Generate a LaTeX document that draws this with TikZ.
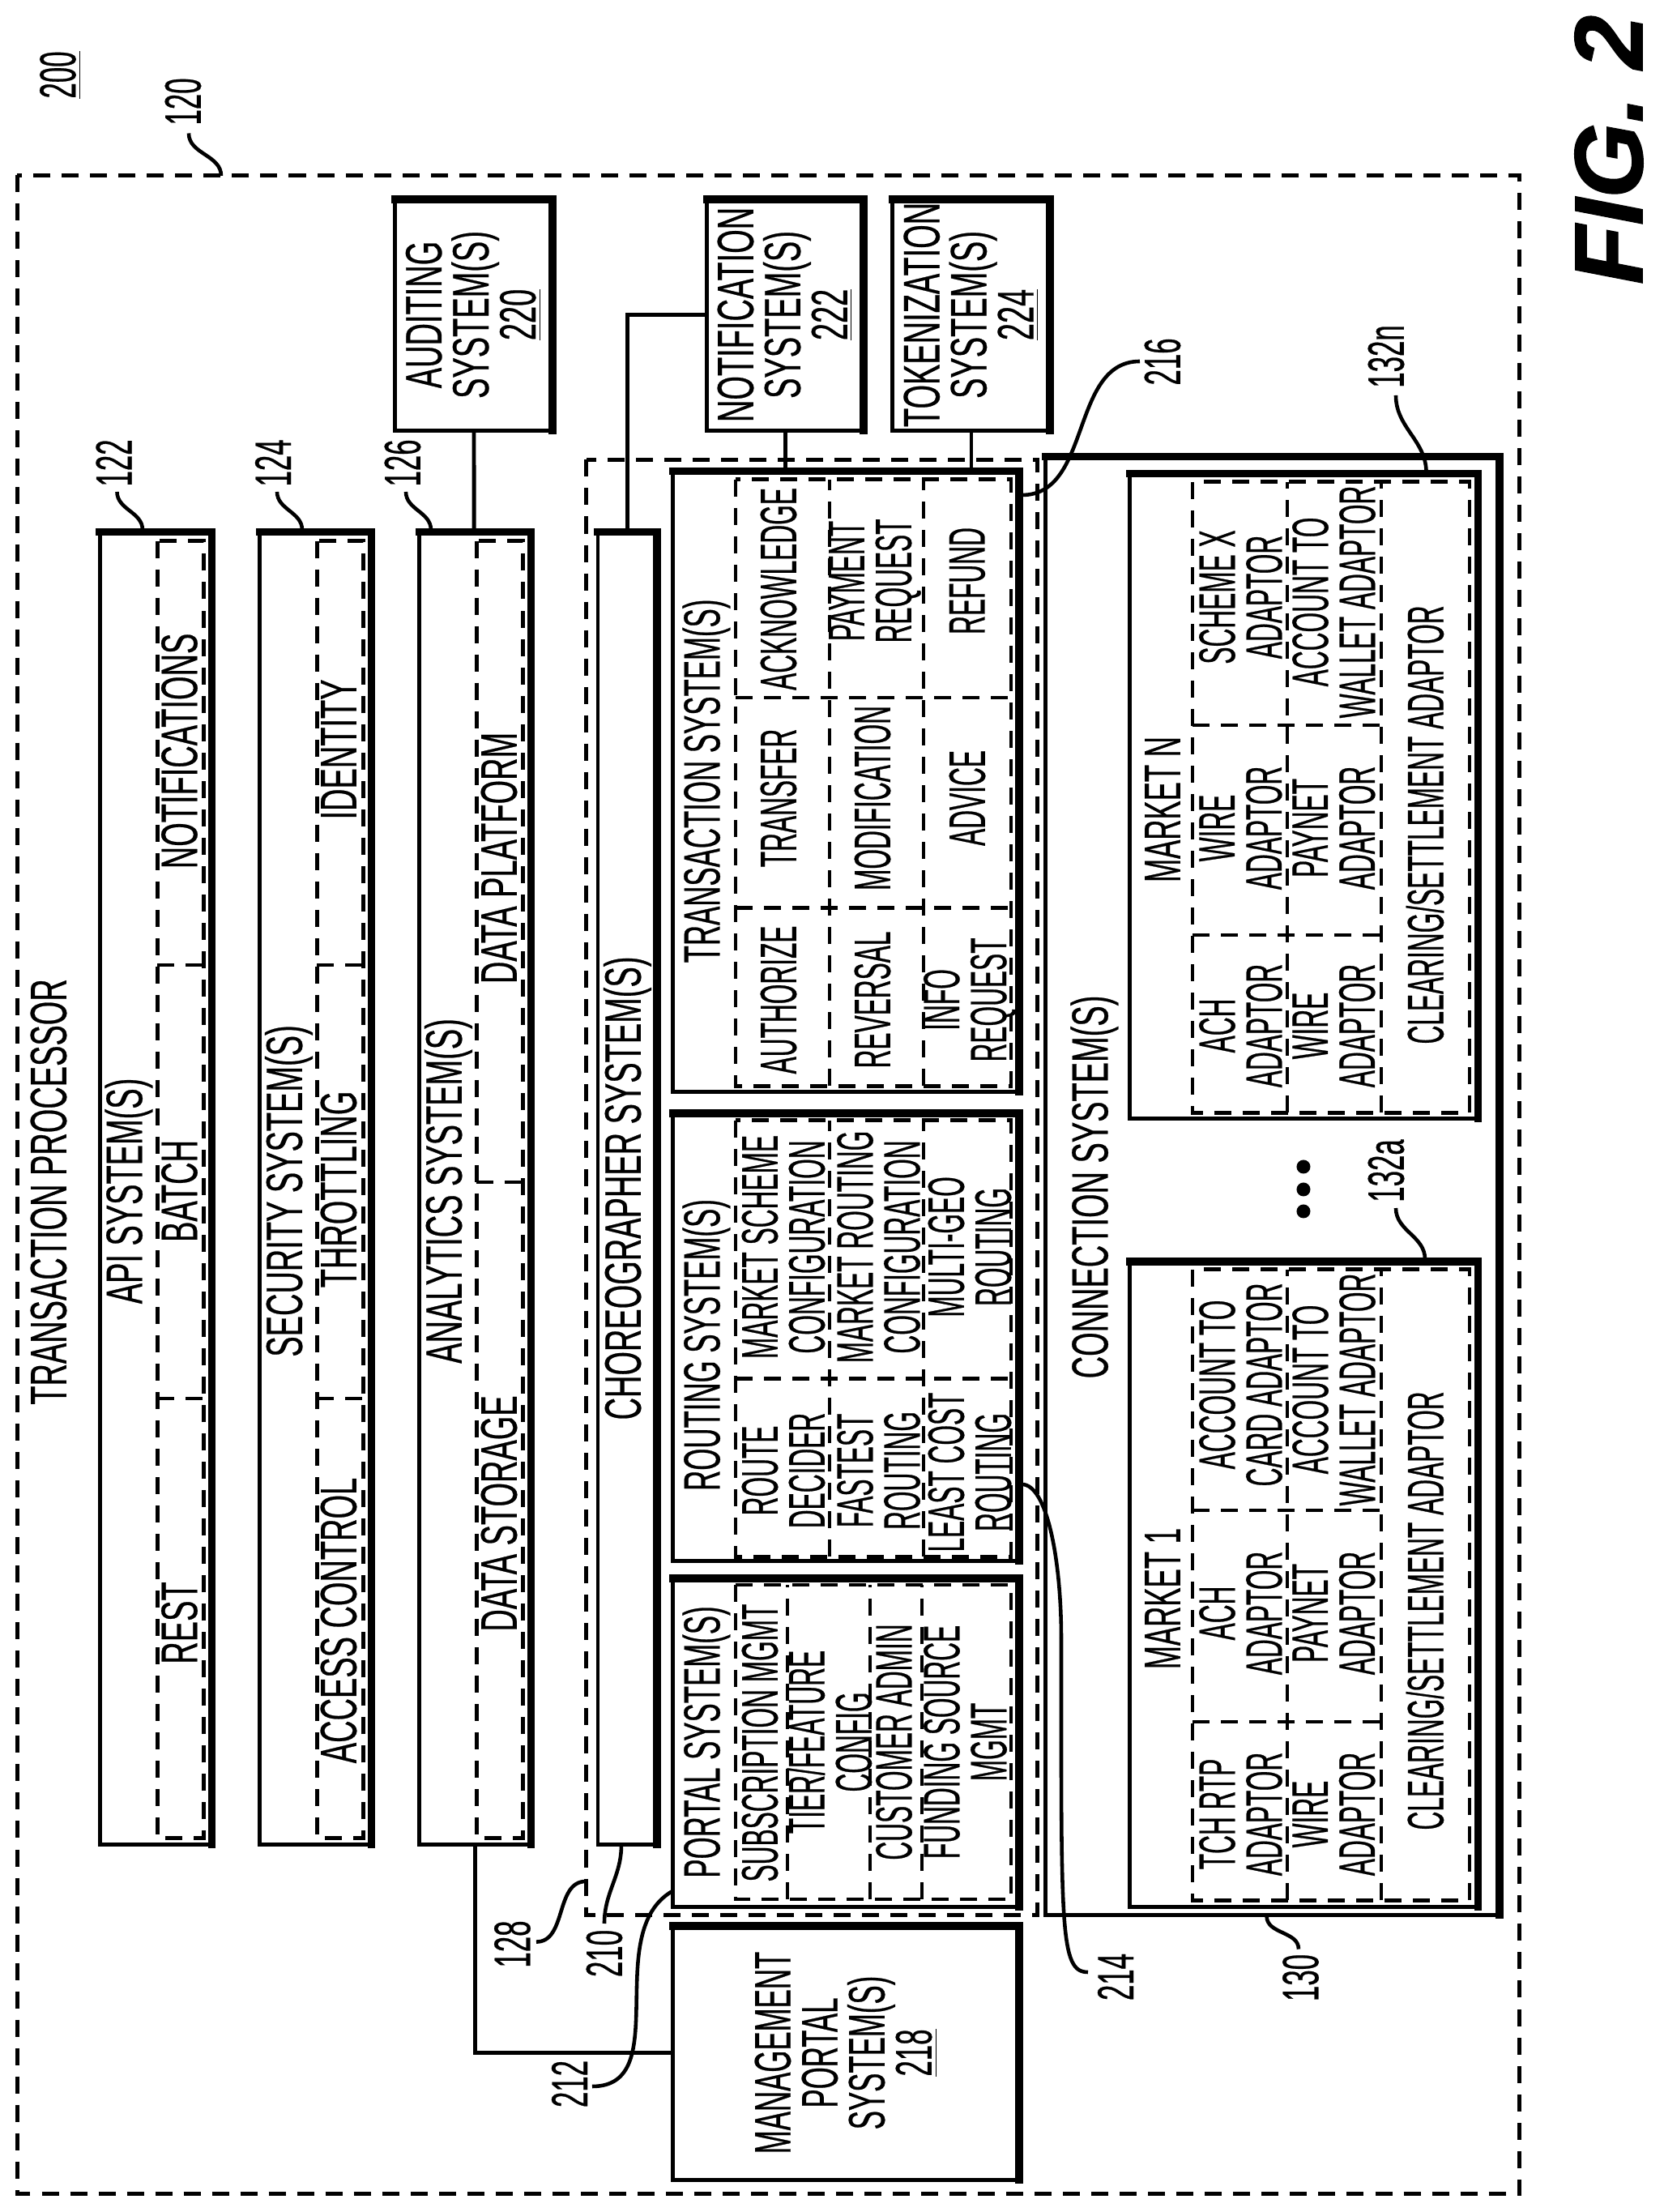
\documentclass[tikz,border=0pt]{standalone}
\usepackage{fontspec}
\setmainfont[FakeStretch=0.6, FakeBold=0.4]{Liberation Sans}
\newfontfamily\midfont[FakeStretch=0.55, FakeBold=0.4]{Liberation Sans}
\newfontfamily\cellfont[FakeStretch=0.5, FakeBold=0.4]{Liberation Sans}
\newfontfamily\figfont[FakeBold=1.2]{Liberation Sans}

\begin{document}
\begin{tikzpicture}[x=0.01cm, y=0.01cm, rotate=90, transform shape, node distance=1.97cm, line width=1.4pt]
    % Define the styles for each node
    \tikzstyle{every node} = [font=\fontsize{18}{16.5}\selectfont, inner sep=0pt, outer sep=0pt, align=center]
    \tikzstyle{heading} = [font=\fontsize{18}{16.5}\midfont]
    \tikzstyle{cell} = [font=\fontsize{18}{16.5}\cellfont]
    \tikzstyle{heavy} = [line width=2.7pt, line cap=rect]
    \tikzstyle{system} = [rectangle, draw, append after command={
        (\tikzlastnode.north east) edge[heavy] (\tikzlastnode.south east)
        (\tikzlastnode.south east) edge[heavy] (\tikzlastnode.south west)}]
    \tikzstyle{dashline} = [line width=1.35pt, dash pattern=on 0.21cm off 0.14cm]
    \tikzstyle{group} = [rectangle, draw, dashline]
    \tikzstyle{leader} = [line width=1.3pt]
    \tikzstyle{dot} = [circle, fill, minimum size=0.17cm]

    \useasboundingbox (0,0) rectangle (2730,2053);

    % Create the outer frame and the figure title
    \node [group, minimum width=24.90cm, minimum height=18.53cm] (processor) at (1268,1104.5) {};
    \node (processortitle) at (1259,1993) {TRANSACTION PROCESSOR};
    \node (figtitle) at (2545,67) {\fontsize{34}{34}\figfont\bfseries\itshape FIG. 2};
    \node [heading] (ref200) at (2637.5,1978) {\underline{200}};
    \node [heading] (ref120) at (2604.5,1827) {120};

    % Create the nodes for the three upper bars
    \node [system, minimum width=16.19cm, minimum height=1.38cm] (api) at (1263.5,1860.75) {};
    \node [system, minimum width=16.19cm, minimum height=1.38cm, below of=api] (security) {};
    \node [system, minimum width=16.19cm, minimum height=1.38cm, below of=security] (analytics) {};
    \node [group, minimum width=16cm, minimum height=0.57cm] (apiinner) at (1262,1830.25) {};
    \node [group, minimum width=16cm, minimum height=0.57cm, below of=apiinner] (securityinner) {};
    \node [group, minimum width=16cm, minimum height=0.57cm, below of=securityinner] (analyticsinner) {};
    \node (apititle) at (1260,1894) {API SYSTEM(S)};
    \node (notifications) at (1803,1831.5) {NOTIFICATIONS};
    \node (batch) at (1260,1831.5) {BATCH};
    \node (rest) at (727,1831.5) {REST};
    \node (securitytitle) at (1260,1696.5) {SECURITY SYSTEM(S)};
    \node (identity) at (1805,1635) {IDENTITY};
    \node (throttling) at (1262,1635) {THROTTLING};
    \node (accesscontrol) at (730,1635) {ACCESS CONTROL};
    \node (analyticstitle) at (1260,1499.5) {ANALYTICS SYSTEM(S)};
    \node (dataplatform) at (1671,1437) {DATA PLATFORM};
    \node (datastorage) at (862,1437) {DATA STORAGE};
    \draw [dashline] (1539,0 |- apiinner.north) -- (1539,0 |- apiinner.south);
    \draw [dashline] (1004,0 |- apiinner.north) -- (1004,0 |- apiinner.south);
    \draw [dashline] (1539,0 |- securityinner.north) -- (1539,0 |- securityinner.south);
    \draw [dashline] (1004,0 |- securityinner.north) -- (1004,0 |- securityinner.south);
    \draw [dashline] (1271,0 |- analyticsinner.north) -- (1271,0 |- analyticsinner.south);

    % Create the nodes for the side systems
    \node [system, minimum width=2.85cm, minimum height=1.945cm] (auditing) at (2341.5,1468.25) {AUDITING\\SYSTEM(S)\\\underline{220}};
    \node [system, minimum width=2.85cm, minimum height=1.935cm] (notification) at (2341.5,1083.75) {NOTIFICATION\\SYSTEM(S)\\\underline{222}};
    \node [system, minimum width=2.85cm, minimum height=1.94cm] (tokenization) at (2341.5,854) {TOKENIZATION\\SYSTEM(S)\\\underline{224}};
    \node [system, heading, minimum width=3.13cm, minimum height=4.27cm] (management) at (196.5,1008.5) {MANAGEMENT\\PORTAL\\SYSTEM(S)\\\underline{218}};

    % Create the nodes for the choreographer group
    \node [group, minimum width=17.95cm, minimum height=5.56cm] (choreogroup) at (1264.5,1051) {};
    \node [system, minimum width=16.19cm, minimum height=0.73cm] (choreographer) at (1263.5,1278.5) {CHOREOGRAPHER SYSTEM(S)};

    % Transaction system
    \node [system, minimum width=7.65cm, minimum height=4.27cm] (transaction) at (1765.5,1008.5) {};
    \node [group, minimum width=7.48cm, minimum height=3.40cm] (transactioninner) at (1764,975) {};
    \node [heading] (transactiontitle) at (1766,1181) {TRANSACTION SYSTEM(S)};
    \node [cell] (acknowledge) at (2003,1092) {ACKNOWLEDGE};
    \node [cell] (transfer) at (1745,1092) {TRANSFER};
    \node [cell] (authorize) at (1496,1092) {AUTHORIZE};
    \node [cell] (paymentrequest) at (2013,973) {PAYMENT\\REQUEST};
    \node [cell] (modification) at (1745,976) {MODIFICATION};
    \node [cell] (reversal) at (1496,976) {REVERSAL};
    \node [cell] (refund) at (2013,859) {REFUND};
    \node [cell] (advice) at (1745,859) {ADVICE};
    \node [cell] (inforequest) at (1496,856) {INFO\\REQUEST};
    \draw [dashline] (transactioninner.west |- 0,1029) -- (transactioninner.east |- 0,1029);
    \draw [dashline] (transactioninner.west |- 0,913) -- (transactioninner.east |- 0,913);
    \draw [dashline] (1869,0 |- transactioninner.north) -- (1869,0 |- transactioninner.south);
    \draw [dashline] (1609.5,0 |- transactioninner.north) -- (1609.5,0 |- transactioninner.south);

    % Routing system
    \node [system, minimum width=5.52cm, minimum height=4.27cm] (routing) at (1080,1008.5) {};
    \node [group, minimum width=5.38cm, minimum height=3.40cm] (routinginner) at (1078,975) {};
    \node [heading] (routingtitle) at (1070,1181) {ROUTING SYSTEM(S)};
    \node [cell] (marketscheme) at (1191,1086) {MARKET SCHEME\\CONFIGURATION};
    \node [cell] (routedecider) at (915,1086) {ROUTE\\DECIDER};
    \node [cell] (marketrouting) at (1191,968.5) {MARKET ROUTING\\CONFIGURATION};
    \node [cell] (fastest) at (915,968.5) {FASTEST\\ROUTING};
    \node [cell] (multigeo) at (1191,856) {MULTI-GEO\\ROUTING};
    \node [cell] (leastcost) at (913,856) {LEAST COST\\ROUTING};
    \draw [dashline] (routinginner.west |- 0,1029) -- (routinginner.east |- 0,1029);
    \draw [dashline] (routinginner.west |- 0,913) -- (routinginner.east |- 0,913);
    \draw [dashline] (1028.5,0 |- routinginner.north) -- (1028.5,0 |- routinginner.south);

    % Portal system
    \node [system, minimum width=4.05cm, minimum height=4.27cm] (portal) at (579.5,1008.5) {};
    \node [group, minimum width=3.88cm, minimum height=3.40cm] (portalinner) at (580,975) {};
    \node [heading] (portaltitle) at (580,1181) {PORTAL SYSTEM(S)};
    \node [cell] (subscription) at (579,1115) {SUBSCRIPTION MGMT};
    \node [cell] (tierfeature) at (580,1029) {TIER/FEATURE\\CONFIG};
    \node [cell] (customeradmin) at (580,949.5) {CUSTOMER ADMIN};
    \node [cell] (fundingsource) at (580,861.5) {FUNDING SOURCE\\MGMT};
    \draw [dashline] (portalinner.west |- 0,1081) -- (portalinner.east |- 0,1081);
    \draw [dashline] (portalinner.west |- 0,979) -- (portalinner.east |- 0,979);
    \draw [dashline] (portalinner.west |- 0,915) -- (portalinner.east |- 0,915);

    % Connection system and its markets
    \node [system, minimum width=17.99cm, minimum height=5.60cm] (connection) at (1266.5,482) {};
    \node (connectiontitle) at (1265,702) {CONNECTION SYSTEM(S)};
    \node [dot] (dot1) at (1290,444) {};
    \node [dot] (dot2) at (1262,444) {};
    \node [dot] (dot3) at (1235,444) {};

    \node [system, minimum width=7.95cm, minimum height=4.295cm] (marketn) at (1747.5,443.25) {};
    \node [group, minimum width=7.78cm, minimum height=3.42cm] (marketninner) at (1746,410) {};
    \node [heading] (marketntitle) at (1731,618) {MARKET N};
    \node [cell] (schemex) at (1993,521.5) {SCHEME X\\ADAPTOR};
    \node [cell] (walletn) at (1987,406.5) {ACCOUNT TO\\WALLET ADAPTOR};
    \node [cell] (wiren) at (1708,521.5) {WIRE\\ADAPTOR};
    \node [cell] (paynetn) at (1708,406.5) {PAYNET\\ADAPTOR};
    \node [cell] (achn) at (1464,521.5) {ACH\\ADAPTOR};
    \node [cell] (wiretwon) at (1464,406.5) {WIRE\\ADAPTOR};
    \node [cell] (clearingn) at (1712,294) {CLEARING/SETTLEMENT ADAPTOR};
    \draw [dashline] (marketninner.west |- 0,464) -- (marketninner.east |- 0,464);
    \draw [dashline] (marketninner.west |- 0,348) -- (marketninner.east |- 0,348);
    \draw [dashline] (1835,0 |- marketninner.north) -- (1835,348);
    \draw [dashline] (1576,0 |- marketninner.north) -- (1576,348);

    \node [system, minimum width=7.96cm, minimum height=4.295cm] (marketone) at (775,443.25) {};
    \node [group, minimum width=7.78cm, minimum height=3.42cm] (marketoneinner) at (774,410) {};
    \node [heading] (marketonetitle) at (757,618) {MARKET 1};
    \node [cell] (cardone) at (1021,521.5) {ACCOUNT TO\\CARD ADAPTOR};
    \node [cell] (walletone) at (1015,406.5) {ACCOUNT TO\\WALLET ADAPTOR};
    \node [cell] (achone) at (739,521.5) {ACH\\ADAPTOR};
    \node [cell] (paynetone) at (739,406.5) {PAYNET\\ADAPTOR};
    \node [cell] (tchone) at (491,521.5) {TCH RTP\\ADAPTOR};
    \node [cell] (wireone) at (491,406.5) {WIRE\\ADAPTOR};
    \node [cell] (clearingone) at (742,294) {CLEARING/SETTLEMENT ADAPTOR};
    \draw [dashline] (marketoneinner.west |- 0,464) -- (marketoneinner.east |- 0,464);
    \draw [dashline] (marketoneinner.west |- 0,348) -- (marketoneinner.east |- 0,348);
    \draw [dashline] (866,0 |- marketoneinner.north) -- (866,348);
    \draw [dashline] (605,0 |- marketoneinner.north) -- (605,348);

    % Draw the lines between the systems
    \draw (auditing) -- (analytics);
    \draw (notification.north) |- (choreographer.east);
    \draw (notification.west) -- (transaction.east |- notification.west);
    \draw (tokenization.west) -- (transaction.east |- tokenization.west);
    \draw (analytics.west) -| (management.north);

    % Add the reference numbers and their curved leaders
    \node [heading] (ref122) at (2158.5,1912.5) {122};
    \node [heading] (ref124) at (2158.5,1716) {124};
    \node [heading] (ref126) at (2158.5,1556) {126};
    \node [heading] (ref216) at (2283.5,618) {216};
    \node [heading] (ref132n) at (2290,342) {132n};
    \node [heading] (ref132a) at (1285,342) {132a};
    \node [heading] (ref130) at (289,447.5) {130};
    \node [heading] (ref214) at (290,676) {214};
    \node [heading] (ref128) at (330.5,1420.5) {128};
    \node [heading] (ref210) at (319,1307) {210};
    \node [heading] (ref212) at (158,1350) {212};

    \coordinate (end120) at (2565.5,1820);
    \coordinate (end122) at (2123,1908.5);
    \coordinate (end124) at (2123,1711);
    \coordinate (end126) at (2123,1552);
    \coordinate (end216) at (2284,646);
    \coordinate (end132n) at (2242,330);
    \coordinate (end132a) at (1239,330);
    \coordinate (end130) at (324.4,450);
    \coordinate (end214) at (296,710);
    \coordinate (mid214) at (708,743);
    \coordinate (end128) at (333.4,1391);
    \coordinate (end210) at (356,1307);
    \coordinate (end212) at (155,1322);

    \draw [leader] (2513,1780) to [out=0, in=180] (end120);
    \draw [leader] (2076,1877) to [out=0, in=180] (end122);
    \draw [leader] (2076,1680) to [out=0, in=180] (end124);
    \draw [leader] (2076,1521) to [out=0, in=180] (end126);
    \draw [leader] (2119,791.4) to [out=270, in=90] (end216);
    \draw [leader] (2146.5,292.4) to [out=0, in=180] (end132n);
    \draw [leader] (1176,294) to [out=0, in=180] (end132a);
    \draw [leader] (365,489.4) to [out=180, in=0] (end130);
    \draw [leader] (898,791.4) to [out=270, in=0, out distance=0.3cm, in distance=1cm] (mid214);
    \draw [leader] (mid214) to [out=180, in=90, out distance=3.6cm, in distance=0.35cm] (end214);
    \draw [leader] (408,1330) to [out=90, in=270] (end128);
    \draw [leader] (453,1286) to [out=180, in=0] (end210);
    \draw [leader] (396,1223) to [out=120, in=270] (end212);
\end{tikzpicture}
\end{document}
